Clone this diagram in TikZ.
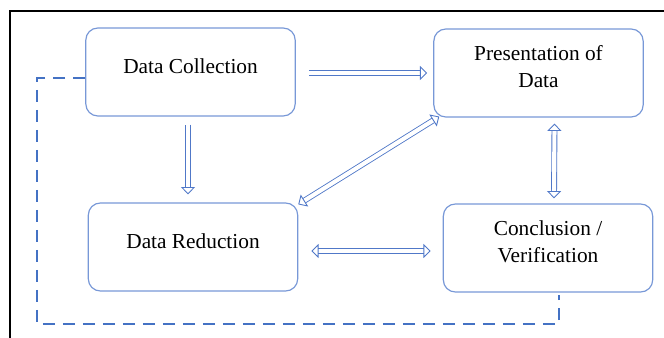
\documentclass[tikz,border=0pt]{standalone}
\usepackage{fontspec}
\setmainfont{Liberation Serif}
\usetikzlibrary{arrows.meta,calc}
\definecolor{boxblue}{RGB}{120,152,215}
\definecolor{arrblue}{RGB}{80,120,200}
\definecolor{dashblue}{RGB}{68,114,196}
\tikzset{
  stagebox/.style={draw=boxblue, line width=0.9pt, rounded corners=9pt, minimum width=157pt, minimum height=66pt, inner sep=0pt},
  stagetext/.style={font=\fontsize{16}{20}\selectfont, align=center, text=black, inner sep=0pt},
  blockarrow/.style={draw=arrblue, line width=0.65pt, double=white, double distance=3.1pt,
     -{Triangle[open, length=5.5pt, width=10.5pt]}},
  blockarrows/.style={blockarrow, {Triangle[open, length=5.5pt, width=10.5pt]}-{Triangle[open, length=5.5pt, width=10.5pt]}},
  feedback/.style={draw=dashblue, line width=2.2pt, dash pattern=on 9pt off 6pt},
}
\begin{document}
\begin{tikzpicture}[x=0.75pt,y=-0.75pt]
\useasboundingbox (0,0) rectangle (664,338);
% outer frame
\coordinate (fbl) at (10,345);
\coordinate (ftl) at (10,11);
\coordinate (ftr) at (670,11);
\draw[line width=1.6pt] (fbl) -- (ftl) -- (ftr);
% boxes
\node[stagebox] (dc) at (190.5,72) {};
\node[stagebox] (pd) at (538.5,73) {};
\node[stagebox] (dr) at (193,247) {};
\node[stagebox] (cv) at (548,248) {};
\node[stagetext] (dct) at ($(dc.center)+(0,-6)$) {Data Collection};
\node[stagetext] (pdt) at ($(pd.center)+(0,-6.5)$) {Presentation of\\Data};
\node[stagetext] (drt) at ($(dr.center)+(0,-6)$) {Data Reduction};
\node[stagetext] (cvt) at ($(cv.center)+(0,-6.5)$) {Conclusion /\\Verification};
% arrows
\draw[blockarrow] ($(dc.east)+(13,1)$) -- ($(pd.west)+(-6,0)$);
\draw[blockarrow] ($(dc.south)+(-2.5,8)$) -- ($(dr.north)+(-5,-8)$);
\draw[blockarrows] ($(dr.north east)+(0,2)$) -- ($(pd.south west)+(6,-1)$);
\draw[blockarrows] ($(pd.south)+(16,6)$) -- ($(cv.north)+(6,-5)$);
\draw[blockarrows] ($(dr.east)+(13,4)$) -- ($(cv.west)+(-12,3)$);
% feedback loop
\coordinate (l1) at (37,78);
\coordinate (l2) at (37,324);
\coordinate (l3) at (559,324);
\draw[feedback] ($(dc.west)+(0,6)$) -- (l1) -- (l2) -- (l3) -- ($(cv.south)+(11,2)$);
\end{tikzpicture}
\end{document}
